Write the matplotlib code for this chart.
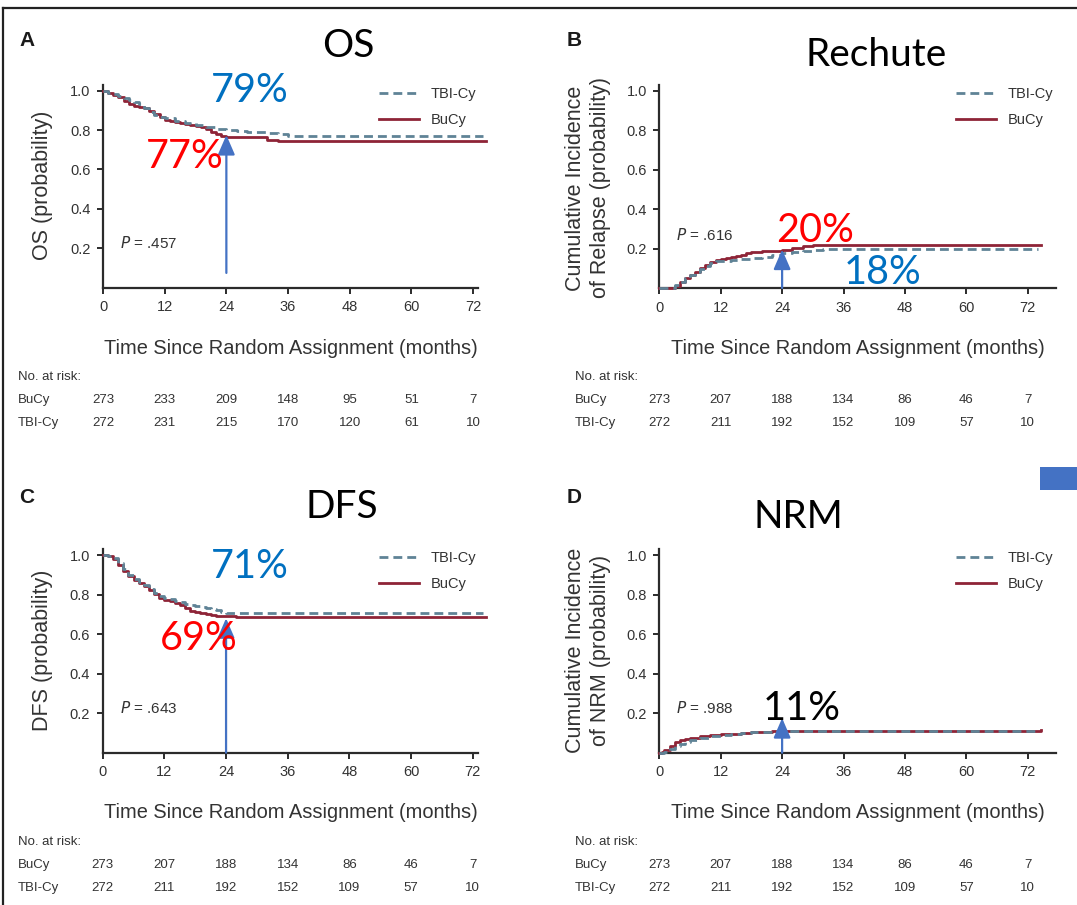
import matplotlib
matplotlib.use("Agg")
import matplotlib.pyplot as plt
from matplotlib.lines import Line2D
from matplotlib.patches import Rectangle
from matplotlib.transforms import blended_transform_factory

W, H = 1077, 905

# ---------------- data ----------------
xticks = [0, 12, 24, 36, 48, 60, 72]
yticks = [0.2, 0.4, 0.6, 0.8, 1.0]

os_t_bu = [0, 1, 2, 3, 4, 5, 6, 7, 8, 9, 10, 11, 12, 13, 14, 15, 16, 17, 18, 19, 20, 21, 22, 23, 24, 26, 28, 30, 32, 34, 36, 74.5]
os_s_bu = [1.0, 0.99, 0.98, 0.97, 0.95, 0.93, 0.92, 0.915, 0.91, 0.895, 0.88, 0.865, 0.85, 0.845, 0.84, 0.835, 0.83, 0.825, 0.82, 0.815, 0.805, 0.79, 0.78, 0.77, 0.767, 0.767, 0.765, 0.765, 0.75, 0.745, 0.745, 0.745]
os_t_tbi = [0, 1, 2, 3, 4, 5, 6, 7, 8, 9, 10, 11, 12, 14, 16, 18, 20, 22, 24, 26, 28, 30, 32, 34, 36, 74]
os_s_tbi = [1.0, 0.99, 0.985, 0.975, 0.965, 0.955, 0.945, 0.93, 0.91, 0.89, 0.875, 0.865, 0.86, 0.845, 0.835, 0.826, 0.815, 0.805, 0.80, 0.795, 0.79, 0.79, 0.785, 0.78, 0.77, 0.77]

rel_t_bu = [0, 2, 3, 4, 5, 6, 7, 8, 9, 10, 11, 12, 13, 14, 15, 16, 17, 18, 20, 22, 24, 26, 28, 30, 74.5]
rel_s_bu = [0, 0, 0.01, 0.03, 0.05, 0.065, 0.08, 0.10, 0.115, 0.13, 0.14, 0.145, 0.15, 0.155, 0.16, 0.17, 0.18, 0.185, 0.187, 0.19, 0.193, 0.205, 0.215, 0.218, 0.218]
rel_t_tbi = [0, 2, 3, 4, 5, 6, 7, 8, 9, 10, 11, 12, 14, 16, 18, 20, 22, 24, 26, 28, 30, 32, 34, 36, 74]
rel_s_tbi = [0, 0, 0.015, 0.03, 0.05, 0.065, 0.08, 0.095, 0.11, 0.125, 0.135, 0.138, 0.142, 0.148, 0.152, 0.158, 0.168, 0.178, 0.185, 0.19, 0.193, 0.197, 0.2, 0.2, 0.2]

dfs_t_bu = [0, 1, 2, 3, 4, 5, 6, 7, 8, 9, 10, 11, 12, 13, 14, 15, 16, 17, 18, 19, 20, 21, 22, 24, 26, 74.5]
dfs_s_bu = [1.0, 0.995, 0.98, 0.95, 0.92, 0.895, 0.875, 0.86, 0.845, 0.825, 0.805, 0.785, 0.77, 0.765, 0.755, 0.745, 0.73, 0.715, 0.71, 0.705, 0.70, 0.697, 0.693, 0.69, 0.688, 0.688]
dfs_t_tbi = [0, 1, 2, 3, 4, 5, 6, 7, 8, 9, 10, 11, 12, 13, 14, 15, 16, 17, 18, 19, 20, 21, 22, 23, 24, 74]
dfs_s_tbi = [1.0, 0.995, 0.985, 0.96, 0.93, 0.90, 0.88, 0.865, 0.85, 0.83, 0.81, 0.795, 0.78, 0.775, 0.765, 0.76, 0.752, 0.747, 0.742, 0.737, 0.733, 0.728, 0.72, 0.712, 0.705, 0.705]

nrm_t_bu = [0, 0.5, 1, 2, 3, 4, 5, 6, 8, 10, 12, 14, 16, 18, 20, 22, 24, 74.5]
nrm_s_bu = [0, 0.005, 0.015, 0.035, 0.055, 0.065, 0.07, 0.075, 0.083, 0.088, 0.093, 0.097, 0.10, 0.104, 0.107, 0.11, 0.112, 0.113]
nrm_t_tbi = [0, 1, 2, 3, 4, 5, 6, 8, 10, 12, 14, 16, 18, 20, 22, 24, 74]
nrm_s_tbi = [0, 0.005, 0.02, 0.035, 0.045, 0.055, 0.062, 0.075, 0.085, 0.092, 0.097, 0.10, 0.104, 0.107, 0.11, 0.112, 0.113]

risk_bu_A = [273, 233, 209, 148, 95, 51, 7]
risk_tbi_A = [272, 231, 215, 170, 120, 61, 10]
risk_bu = [273, 207, 188, 134, 86, 46, 7]
risk_tbi = [272, 211, 192, 152, 109, 57, 10]

# ---------------- style ----------------
RED = "#8e2437"
BLUE_DASH = "#5f8396"
ARROW = "#4472C4"
TXT = "#333333"
SANS = ["Liberation Sans", "DejaVu Sans"]
BIG = ["Lato", "Open Sans", "DejaVu Sans"]

fig = plt.figure(figsize=(W / 100, H / 100), dpi=100)
fig.patch.set_facecolor("white")


def fx(x):
    return x / W


def fy(y):
    return 1 - y / H


def make_axes(left_px, bottom_px, xmax, xspine, yscale, pxm):
    width = xmax * pxm
    height = 1.03 * yscale
    ax = fig.add_axes([fx(left_px), fy(bottom_px), width / W, height / H])
    ax.set_xlim(0, xmax)
    ax.set_ylim(0, 1.03)
    ax.spines["top"].set_visible(False)
    ax.spines["right"].set_visible(False)
    for s in ("left", "bottom"):
        ax.spines[s].set_linewidth(1.6)
        ax.spines[s].set_color("#2b2b2b")
    ax.spines["bottom"].set_bounds(0, xspine)
    ax.set_xticks(xticks)
    ax.set_yticks(yticks)
    ax.set_yticklabels([f"{v:.1f}" for v in yticks])
    ax.tick_params(axis="both", direction="out", length=4, width=1.4, color="#2b2b2b",
                   labelsize=10.5, labelcolor=TXT, pad=5)
    for lab in ax.get_xticklabels() + ax.get_yticklabels():
        lab.set_family(SANS)
    ax.patch.set_alpha(0)
    return ax


panels = [
    dict(left=103, bottom=287.7, xmax=75, xspine=73, ys=197, pxm=5.14,
         bu=(os_t_bu, os_s_bu), tbi=(os_t_tbi, os_s_tbi), rb=risk_bu_A, rt=risk_tbi_A,
         letter="A", lpos=(27, 40), title="OS", tpos=(348, 46),
         ylabel="OS (probability)", ylpos=(43, 185),
         p="P = .457", ppos=(120, 243), leg=(476, 87),
         arrow=((24, 0.075), (24, 0.775)),
         ann=[("79%", "#0070C0", (250, 90)), ("77%", "#FF0000", (185, 157))],
         xl=(291, 348), rk=(377, 400, 423), rkx=18),
    dict(left=659.3, bottom=288, xmax=77.5, xspine=77.5, ys=197, pxm=5.117,
         bu=(rel_t_bu, rel_s_bu), tbi=(rel_t_tbi, rel_s_tbi), rb=risk_bu, rt=risk_tbi,
         letter="B", lpos=(574, 40), title="Rechute", tpos=(876, 55),
         ylabel="Cumulative Incidence\nof Relapse (probability)", ylpos=(588, 188),
         p="P = .616", ppos=(676, 235), leg=(1053, 87),
         arrow=((24, 0.0), (24, 0.195)),
         ann=[("20%", "#FF0000", (815, 230)), ("18%", "#0070C0", (883, 273))],
         xl=(858, 348), rk=(377, 400, 423), rkx=575),
    dict(left=102.7, bottom=752.7, xmax=75, xspine=73, ys=197.7, pxm=5.14,
         bu=(dfs_t_bu, dfs_s_bu), tbi=(dfs_t_tbi, dfs_s_tbi), rb=risk_bu, rt=risk_tbi,
         letter="C", lpos=(27, 497), title="DFS", tpos=(342, 507),
         ylabel="DFS (probability)", ylpos=(43, 650),
         p="P = .643", ppos=(120, 708), leg=(476, 551),
         arrow=((24, 0.0), (24, 0.68)),
         ann=[("71%", "#0070C0", (250, 567)), ("69%", "#FF0000", (199, 638))],
         xl=(291, 812), rk=(842, 865, 888), rkx=18),
    dict(left=659.3, bottom=752.7, xmax=77.5, xspine=77.5, ys=197.7, pxm=5.117,
         bu=(nrm_t_bu, nrm_s_bu), tbi=(nrm_t_tbi, nrm_s_tbi), rb=risk_bu, rt=risk_tbi,
         letter="D", lpos=(574, 497), title="NRM", tpos=(798, 517),
         ylabel="Cumulative Incidence\nof NRM (probability)", ylpos=(588, 650),
         p="P = .988", ppos=(676, 708), leg=(1053, 551),
         arrow=((24, 0.0), (24, 0.175)),
         ann=[("11%", "#000000", (802, 708))],
         xl=(858, 812), rk=(842, 865, 888), rkx=575),
]

for pn in panels:
    ax = make_axes(pn["left"], pn["bottom"], pn["xmax"], pn["xspine"], pn["ys"], pn["pxm"])
    l_bu, = ax.plot(pn["bu"][0], pn["bu"][1], drawstyle="steps-post", color=RED,
                    lw=2.0, label="BuCy", clip_on=False, zorder=3)
    l_tbi, = ax.plot(pn["tbi"][0], pn["tbi"][1], drawstyle="steps-post", color=BLUE_DASH,
                     lw=2.0, ls=(0, (3.2, 1.8)), label="TBI-Cy", clip_on=False, zorder=4)
    leg = ax.legend(handles=[l_tbi, l_bu], loc="upper right", frameon=False,
                    bbox_to_anchor=(fx(pn["leg"][0]), fy(pn["leg"][1])),
                    bbox_transform=fig.transFigure, borderaxespad=0, borderpad=0,
                    handlelength=2.75, handletextpad=0.75, labelspacing=0.8,
                    prop=dict(family=SANS, size=10.5))
    for t in leg.get_texts():
        t.set_color(TXT)

    # arrow
    ax.annotate("", xy=pn["arrow"][1], xytext=pn["arrow"][0],
                arrowprops=dict(arrowstyle="-|>,head_width=0.26,head_length=0.6",
                                mutation_scale=20, color=ARROW, lw=1.6,
                                shrinkA=0, shrinkB=0), zorder=6, annotation_clip=False)

    # axis labels
    fig.text(fx(pn["xl"][0]), fy(pn["xl"][1]),
             "Time Since Random Assignment (months)", ha="center", va="center",
             family=SANS, size=14.4, color=TXT)
    fig.text(fx(pn["ylpos"][0]), fy(pn["ylpos"][1]), pn["ylabel"], rotation=90,
             ha="center", va="center", family=SANS, size=15.5, color=TXT,
             linespacing=1.2, multialignment="center")

    # P value
    fig.text(fx(pn["ppos"][0]), fy(pn["ppos"][1]), r"$\it{P}$ = " + pn["p"].split("= ")[1],
             ha="left", va="center", family=SANS, size=11, color=TXT)

    # panel letter & title
    fig.text(fx(pn["lpos"][0]), fy(pn["lpos"][1]), pn["letter"], ha="center", va="center",
             family=SANS, weight="bold", size=15, color="#1a1a1a")
    fig.text(fx(pn["tpos"][0]), fy(pn["tpos"][1]), pn["title"], ha="center", va="center",
             family=BIG, size=28, color="black")

    # percentages
    for txt, col, pos in pn["ann"]:
        fig.text(fx(pos[0]), fy(pos[1]), txt, ha="center", va="center",
                 family=BIG, size=28.5, color=col, zorder=7)

    # at-risk table
    tr = blended_transform_factory(ax.transData, fig.transFigure)
    fig.text(fx(pn["rkx"]), fy(pn["rk"][0]), "No. at risk:", ha="left", va="center",
             family=SANS, size=9.5, color=TXT)
    fig.text(fx(pn["rkx"]), fy(pn["rk"][1]), "BuCy", ha="left", va="center",
             family=SANS, size=9.5, color=TXT)
    fig.text(fx(pn["rkx"]), fy(pn["rk"][2]), "TBI-Cy", ha="left", va="center",
             family=SANS, size=9.5, color=TXT)
    for xt, vb, vt in zip(xticks, pn["rb"], pn["rt"]):
        ax.text(xt, fy(pn["rk"][1]), str(vb), transform=tr, ha="center", va="center",
                family=SANS, size=9.5, color=TXT, clip_on=False)
        ax.text(xt, fy(pn["rk"][2]), str(vt), transform=tr, ha="center", va="center",
                family=SANS, size=9.5, color=TXT, clip_on=False)

# frame lines
fig.add_artist(Line2D([fx(3), fx(W)], [fy(8), fy(8)], color="#222222", lw=1.6))
fig.add_artist(Line2D([fx(3), fx(3)], [fy(8), fy(H)], color="#222222", lw=1.6))
# blue square at right edge
fig.add_artist(Rectangle((fx(1040), fy(490)), (W - 1040) / W, 23 / H,
                         transform=fig.transFigure, color=ARROW, lw=0))

fig.savefig("out.png", dpi=100)
